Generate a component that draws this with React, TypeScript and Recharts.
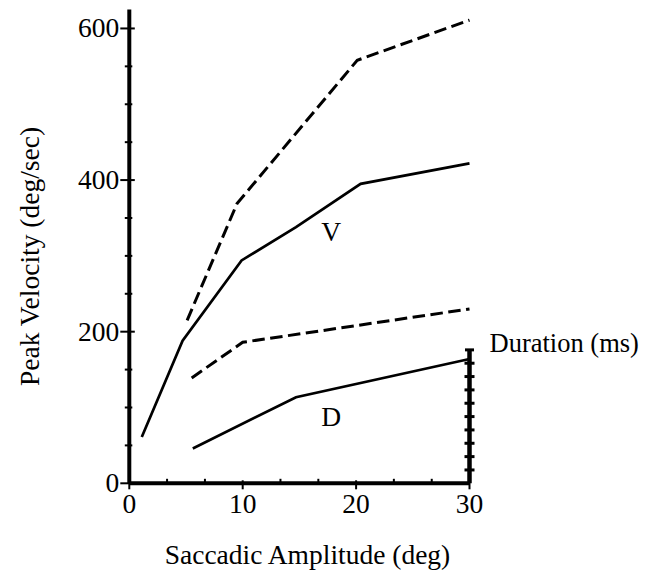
import React from 'react';
import { LineChart, Line, XAxis, YAxis, ReferenceDot } from 'recharts';

// Saccadic amplitude (deg) vs peak velocity (deg/sec) / duration
const solidVx = [1.1, 4.7, 9.9, 14.7, 20.4, 30];
const solidVy = [61, 188, 294, 338, 395, 422];
const dashedVx = [5.1, 9.5, 20.1, 30];
const dashedVy = [215, 369, 558, 611];
const dashedDx = [5.5, 10.0, 30];
const dashedDy = [139, 186, 230];
const solidDx = [5.6, 14.7, 30];
const solidDy = [46, 113.5, 164];

// Duration scale drawn at x = 30 (in velocity units of the left axis)
const durationTop = 176;
const durationTicks = [17.6, 35.2, 52.8, 70.4, 88, 105.6, 123.2, 140.8, 158.4];

const xTicks = [0, 3.33, 6.67, 10, 13.33, 16.67, 20, 23.33, 26.67, 30];
const xMajor = [0, 10, 20, 30];
const yTicks = [0, 50, 100, 150, 200, 250, 300, 350, 400, 450, 500, 550, 600];
const yMajor = [0, 200, 400, 600];

const zip = (xs: number[], ys: number[]) => xs.map((x, i) => ({ x, y: ys[i] }));

const solidV = zip(solidVx, solidVy);
const dashedV = zip(dashedVx, dashedVy);
const dashedD = zip(dashedDx, dashedDy);
const solidD = zip(solidDx, solidDy);
const durationLine = [{ x: 30, y: 0 }, { x: 30, y: durationTop }];
const durationMarks = durationTicks.map((y) => ({ x: 30, y }));
const durationCap = [{ x: 30, y: durationTop }];

const FONT = 'Liberation Serif, Times New Roman, Times, serif';
const FS = 27.5;
const TS: React.CSSProperties = { fontFamily: FONT, fontSize: FS };

const YTick = (props: any) => {
  const { x, y, payload } = props;
  const major = yMajor.includes(payload.value);
  return (
    <g>
      <line
        x1={major ? x - 9 : x - 4.5}
        x2={major ? x + 5.5 : x + 3}
        y1={y}
        y2={y}
        stroke="#000"
        strokeWidth={2}
      />
      {major && (
        <text x={x - 10} y={y} dy={9} textAnchor="end" style={TS} fill="#000">
          {payload.value}
        </text>
      )}
    </g>
  );
};

const XTick = (props: any) => {
  const { x, y, payload } = props;
  const major = xMajor.some((m) => Math.abs(m - payload.value) < 0.01);
  return (
    <g>
      <line
        x1={x}
        x2={x}
        y1={major ? y - 3 : y - 4.5}
        y2={major ? y + 6 : y}
        stroke="#000"
        strokeWidth={2}
      />
      {major && (
        <text x={x} y={y + 30} textAnchor="middle" style={TS} fill="#000">
          {Math.round(payload.value)}
        </text>
      )}
    </g>
  );
};

const markDot = (w: number) => (p: any) => (
  <line
    key={`m-${p.index}-${w}`}
    x1={p.cx - w / 2}
    x2={p.cx + w / 2}
    y1={p.cy}
    y2={p.cy}
    stroke="#000"
    strokeWidth={3}
  />
);

const labelStyle = { fontFamily: FONT, fontSize: FS, fill: '#000', style: TS };
const durStyle: React.CSSProperties = { fontFamily: FONT, fontSize: 26.5 };

export default function App() {
  return (
    <div style={{ fontFamily: FONT }}>
      <LineChart
        width={640}
        height={566}
        margin={{ top: 1.5, right: 178.5, bottom: 30.7, left: 0 }}
        style={{ fontFamily: FONT, overflow: 'visible' }}
      >
        <XAxis
          type="number"
          dataKey="x"
          domain={[0, 30]}
          ticks={xTicks}
          interval={0}
          tick={<XTick />}
          tickSize={0}
          tickMargin={0}
          tickLine={false}
          axisLine={{ stroke: '#000', strokeWidth: 4 }}
          height={60}
          allowDuplicatedCategory={false}
          label={() => (
            <text x={299.5} y={556.3} textAnchor="middle" style={TS} fill="#000">
              Saccadic Amplitude (deg)
            </text>
          )}
        />
        <YAxis
          type="number"
          dataKey="y"
          domain={[0, 625]}
          ticks={yTicks}
          interval={0}
          tick={<YTick />}
          tickSize={0}
          tickMargin={0}
          tickLine={false}
          axisLine={{ stroke: '#000', strokeWidth: 4 }}
          width={121.3}
          label={() => (
            <text
              x={31}
              y={248.5}
              transform="rotate(-90, 31, 248.5)"
              textAnchor="middle"
              style={TS}
              fill="#000"
            >
              Peak Velocity (deg/sec)
            </text>
          )}
        />
        <Line data={solidV} dataKey="y" stroke="#000" strokeWidth={2.7} dot={false} isAnimationActive={false} />
        <Line data={dashedV} dataKey="y" stroke="#000" strokeWidth={3} strokeDasharray="12.5 5.5" dot={false} isAnimationActive={false} />
        <Line data={dashedD} dataKey="y" stroke="#000" strokeWidth={3} strokeDasharray="12.5 5.5" dot={false} isAnimationActive={false} />
        <Line data={solidD} dataKey="y" stroke="#000" strokeWidth={2.7} dot={false} isAnimationActive={false} />
        <Line data={durationLine} dataKey="y" stroke="#000" strokeWidth={4.5} dot={false} isAnimationActive={false} />
        <Line data={durationMarks} dataKey="y" stroke="none" dot={markDot(10)} isAnimationActive={false} />
        <Line data={durationCap} dataKey="y" stroke="none" dot={markDot(9)} isAnimationActive={false} />
        <ReferenceDot
          x={17.8}
          y={332}
          r={0}
          fill="none"
          stroke="none"
          label={{ value: 'V', position: 'center', ...labelStyle }}
        />
        <ReferenceDot
          x={17.8}
          y={89}
          r={0}
          fill="none"
          stroke="none"
          label={{ value: 'D', position: 'center', ...labelStyle }}
        />
        <ReferenceDot
          x={30}
          y={186}
          r={0}
          fill="none"
          stroke="none"
          label={{ value: 'Duration (ms)', position: 'right', offset: 20, fontFamily: FONT, fontSize: 26.5, fill: '#000', style: durStyle }}
        />
      </LineChart>
    </div>
  );
}
